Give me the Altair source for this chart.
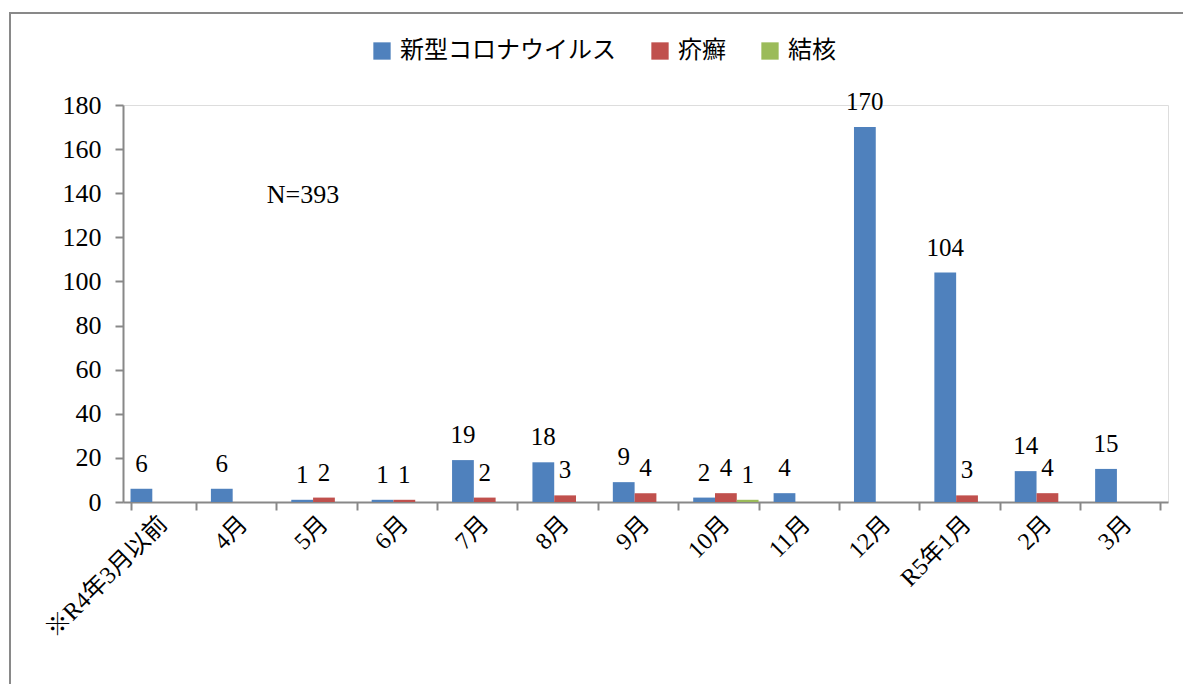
import altair as alt
import pandas as pd

categories = ["※R4年3月以前", "4月", "5月", "6月", "7月", "8月", "9月", "10月",
              "11月", "12月", "R5年1月", "2月", "3月"]
series = ["新型コロナウイルス", "疥癬", "結核"]
corona = [6, 6, 1, 1, 19, 18, 9, 2, 4, 170, 104, 14, 15]
scabies = [0, 0, 2, 1, 2, 3, 4, 4, 0, 0, 3, 4, 0]
tb = [0, 0, 0, 0, 0, 0, 0, 1, 0, 0, 0, 0, 0]
colors = ["#4F81BD", "#C0504D", "#9BBB59"]
y_ticks = [0, 20, 40, 60, 80, 100, 120, 140, 160, 180]
note_month = ["5月"]
note_value = [139]
note_text = ["N=393"]

FONT = "Liberation Serif, Noto Sans CJK JP"

rows = []
for s, vals in zip(series, [corona, scabies, tb]):
    for m, v in zip(categories, vals):
        rows.append({"month": m, "series": s, "value": v})
df = pd.DataFrame(rows)
note_df = pd.DataFrame({"month": note_month, "value": note_value, "t": note_text})

x_enc = alt.X("month:N", sort=categories, title=None,
              scale=alt.Scale(domain=categories, paddingInner=0.187, paddingOuter=0.0935),
              axis=alt.Axis(labelAngle=-45, labelAlign="right", labelBaseline="middle",
                            tickBand="extent", tickSize=8, labelPadding=10,
                            labelFont=FONT, labelFontSize=24, labelColor="#000",
                            domainColor="#888", tickColor="#888", domainWidth=2, tickWidth=2))
y_enc = alt.Y("value:Q", title=None,
              scale=alt.Scale(domain=[0, 180], nice=False),
              axis=alt.Axis(values=y_ticks, grid=False, tickSize=8, labelPadding=14,
                            labelFont=FONT, labelFontSize=26, labelColor="#000",
                            domainColor="#888", tickColor="#888", domainWidth=2, tickWidth=2))
xoff = alt.XOffset("series:N", sort=series, scale=alt.Scale(domain=series, paddingInner=0, paddingOuter=0))

base = alt.Chart(df).encode(x=x_enc, y=y_enc, xOffset=xoff)

bars = base.mark_bar().encode(
    color=alt.Color("series:N", sort=series,
                    scale=alt.Scale(domain=series, range=colors),
                    legend=alt.Legend(title=None, orient="none", direction="horizontal",
                                      legendX=247, legendY=-66, symbolType="square",
                                      symbolSize=300, symbolStrokeWidth=0,
                                      labelFont=FONT, labelFontSize=24, labelColor="#000",
                                      labelLimit=0, columnPadding=32, labelOffset=6))
)

labels = base.transform_filter("datum.value > 0").mark_text(
    baseline="alphabetic", dy=-17, fontSize=25, font=FONT, color="#000"
).encode(text="value:Q")

note = alt.Chart(note_df).mark_text(
    baseline="middle", dx=-21, fontSize=26, font=FONT, color="#000"
).encode(x=alt.X("month:N", sort=categories, title=None),
         y=alt.Y("value:Q", title=None), text="t:N")

border = alt.Chart(note_df).mark_rect(
    fill="transparent", stroke="#898989", strokeWidth=2
).encode(x=alt.value(-113), x2=alt.value(1200), y=alt.value(-92), y2=alt.value(700))

chart = alt.layer(border, bars, labels, note).properties(
    width=1045, height=397,
    autosize=alt.AutoSizeParams(type="none"),
    padding={"left": 123, "top": 105, "right": 15, "bottom": 182},
).configure_view(stroke=None).configure(background="white")

chart.save("out.html", embed_options={"renderer": "svg", "actions": False})
